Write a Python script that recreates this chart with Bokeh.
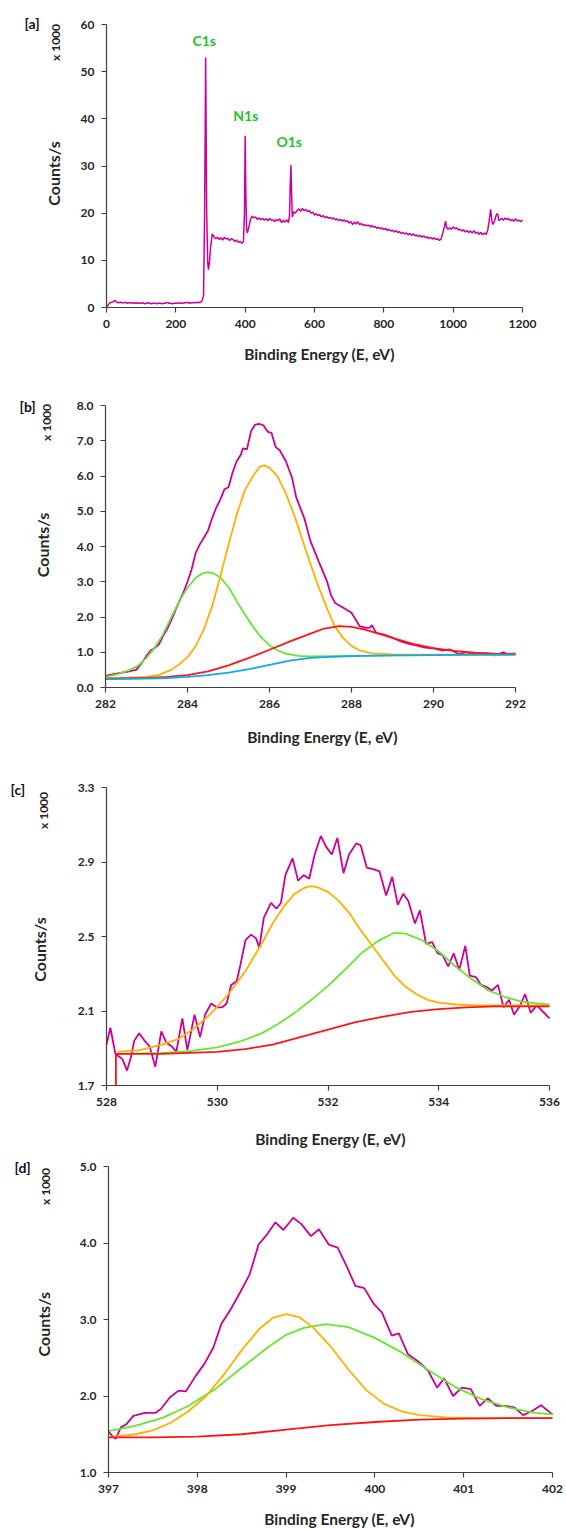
from math import pi
from bokeh.plotting import figure
from bokeh.models import Range1d, FixedTicker, NumeralTickFormatter, Label
from bokeh.layouts import column
from bokeh.embed import file_html
from bokeh.resources import INLINE

# ---------------- data ----------------
# [a] survey spectrum (binding energy eV, counts/s x1000)
survey_be = [0, 5, 10, 15, 20, 25, 30, 35, 40, 45, 50, 55, 60, 65, 70, 75, 80, 85, 90, 95,
             100, 105, 110, 115, 120, 125, 130, 135, 140, 145, 150, 155, 160, 165, 170, 175, 180, 185, 190, 195,
             200, 205, 210, 215, 220, 225, 230, 235, 240, 245, 250, 255, 260, 265, 270, 275, 280, 283, 286, 289,
             292, 294, 297, 300, 305, 310, 315, 320, 325, 330, 335, 340, 345, 350, 355, 360, 365, 370, 375, 380,
             385, 390, 395, 398, 400, 402, 404, 406, 409, 412, 415, 420, 425, 430, 435, 440, 445, 450, 455, 460,
             465, 470, 475, 480, 485, 490, 495, 500, 505, 510, 515, 520, 525, 528, 530, 532, 534, 536, 540, 545,
             550, 555, 560, 565, 570, 575, 580, 585, 590, 595, 600, 605, 610, 615, 620, 625, 630, 635, 640, 645,
             650, 655, 660, 665, 670, 675, 680, 685, 690, 695, 700, 705, 710, 715, 720, 725, 730, 735, 740, 745,
             750, 755, 760, 765, 770, 775, 780, 785, 790, 795, 800, 805, 810, 815, 820, 825, 830, 835, 840, 845,
             850, 855, 860, 865, 870, 875, 880, 885, 890, 895, 900, 905, 910, 915, 920, 925, 930, 935, 940, 945,
             950, 955, 960, 965, 970, 975, 978, 981, 985, 990, 995, 1000, 1005, 1010, 1015, 1020, 1025, 1030, 1035, 1040,
             1045, 1050, 1055, 1060, 1065, 1070, 1075, 1080, 1085, 1090, 1095, 1100, 1104, 1108, 1112, 1115, 1120, 1125, 1128, 1132,
             1135, 1140, 1145, 1150, 1155, 1160, 1165, 1170, 1175, 1180, 1185, 1190, 1195, 1200]
survey_cps = [0.0, 0.6, 1.0, 1.1, 1.3, 1.5, 1.1, 1.0, 1.1, 1.0, 1.0, 1.1, 0.9, 1.0, 1.0, 0.9, 1.0, 0.9, 1.0, 0.9,
              0.9, 1.0, 0.8, 0.9, 1.0, 0.9, 0.8, 0.9, 0.9, 0.8, 0.9, 0.9, 0.8, 0.9, 0.9, 1.1, 0.9, 0.9, 0.8, 0.9,
              0.9, 0.9, 1.0, 0.9, 0.9, 1.0, 1.0, 1.1, 0.9, 1.0, 1.0, 1.0, 1.1, 1.0, 1.1, 1.3, 2.5, 20.0, 53.0, 20.0,
              9.5, 8.0, 9.5, 12.5, 15.6, 15.0, 14.6, 14.9, 14.4, 14.8, 14.3, 14.9, 14.5, 14.7, 14.2, 14.6, 14.4, 14.0, 14.3, 13.8,
              14.0, 13.6, 13.9, 20.0, 36.4, 24.0, 17.0, 15.8, 16.5, 17.5, 18.6, 19.4, 19.0, 19.2, 18.7, 19.0, 18.6, 18.9, 18.5, 18.8,
              18.4, 18.9, 18.5, 18.6, 18.2, 18.7, 18.4, 18.8, 18.0, 18.5, 18.1, 18.6, 18.0, 19.5, 26.0, 30.2, 24.0, 19.2, 20.3, 20.0,
              20.6, 20.9, 20.4, 21.0, 20.5, 20.8, 20.3, 20.6, 20.0, 20.2, 19.6, 19.9, 19.5, 19.7, 19.2, 19.5, 19.0, 19.3, 18.9, 19.1,
              18.8, 19.0, 18.6, 18.8, 18.4, 18.7, 18.3, 18.6, 18.2, 18.4, 17.9, 18.2, 17.6, 18.1, 17.7, 18.2, 17.6, 17.8, 17.4, 17.6,
              17.3, 17.5, 17.1, 17.4, 17.0, 17.2, 16.8, 17.0, 16.7, 16.9, 16.5, 16.8, 16.3, 16.6, 16.2, 16.4, 16.0, 16.3, 15.9, 16.1,
              15.7, 15.9, 15.6, 15.8, 15.4, 15.7, 15.3, 15.6, 15.2, 15.4, 15.0, 15.3, 14.9, 15.2, 14.8, 15.0, 14.6, 14.9, 14.5, 14.8,
              14.4, 14.6, 14.2, 14.5, 15.8, 17.2, 18.3, 17.0, 16.6, 16.9, 16.6, 17.1, 16.7, 16.9, 16.4, 16.6, 16.2, 16.5, 16.0, 16.3,
              15.9, 16.2, 15.8, 16.3, 15.7, 16.0, 15.5, 15.9, 15.4, 15.8, 15.5, 16.5, 18.5, 20.8, 18.2, 17.6, 18.5, 19.8, 19.9, 18.4,
              18.6, 18.9, 18.5, 19.0, 18.6, 18.9, 18.4, 18.7, 18.3, 18.8, 18.4, 18.5, 18.2, 18.6]
peak_names = ["C1s", "N1s", "O1s"]
peak_be = [282, 402, 527]
peak_label_y = [56.7, 40.8, 35.1]

# [b] C1s region
b_raw_be = [282.0, 282.2, 282.4, 282.55, 282.65, 282.75, 282.9, 283.0, 283.1, 283.2, 283.3, 283.4, 283.5, 283.6, 283.7,
            283.8, 283.9, 284.0, 284.1, 284.2, 284.3, 284.4, 284.5, 284.6, 284.7, 284.8, 284.9, 285.0, 285.1, 285.2,
            285.3, 285.35, 285.45, 285.55, 285.65, 285.75, 285.85, 285.95, 286.05, 286.15, 286.25, 286.4, 286.55, 286.65, 286.75,
            286.85, 287.0, 287.2, 287.4, 287.5, 287.6, 287.8, 288.0, 288.1, 288.2, 288.35, 288.45, 288.5, 288.6, 288.8,
            289.0, 289.2, 289.4, 289.6, 289.8, 290.0, 290.2, 290.4, 290.5, 290.6, 290.8, 290.9, 291.0, 291.2, 291.3,
            291.5, 291.7, 291.8, 292.0]
b_raw_cps = [0.33, 0.38, 0.42, 0.45, 0.48, 0.50, 0.72, 0.90, 1.05, 1.12, 1.22, 1.45, 1.65, 1.90, 2.17,
             2.45, 2.69, 3.00, 3.35, 3.82, 4.06, 4.25, 4.45, 4.80, 5.10, 5.33, 5.62, 5.68, 6.10, 6.42,
             6.60, 6.78, 6.76, 7.27, 7.46, 7.48, 7.44, 7.26, 7.22, 6.82, 6.73, 6.42, 5.95, 5.40, 5.10,
             4.80, 4.15, 3.58, 3.02, 2.62, 2.40, 2.26, 2.12, 1.93, 1.74, 1.69, 1.70, 1.77, 1.55, 1.50,
             1.41, 1.31, 1.24, 1.19, 1.13, 1.11, 1.05, 1.08, 1.02, 0.95, 1.00, 0.96, 0.98, 0.94, 0.97,
             0.91, 1.00, 0.95, 0.96]
b_green_be = [282.0, 282.3, 282.6, 282.8, 283.0, 283.2, 283.4, 283.6, 283.8, 284.0, 284.2, 284.35, 284.5, 284.65, 284.8,
              285.0, 285.2, 285.4, 285.6, 285.8, 286.0, 286.2, 286.4, 286.7, 287.0, 288.0, 289.0, 290.0, 292.0]
b_green_cps = [0.30, 0.38, 0.50, 0.62, 0.84, 1.13, 1.50, 1.98, 2.45, 2.83, 3.11, 3.23, 3.27, 3.23, 3.12,
               2.85, 2.45, 2.07, 1.72, 1.42, 1.20, 1.05, 0.96, 0.90, 0.88, 0.90, 0.91, 0.92, 0.93]
b_orange_be = [282.0, 282.5, 283.0, 283.3, 283.6, 283.8, 284.0, 284.2, 284.4, 284.6, 284.8, 285.0, 285.2, 285.4, 285.6,
               285.75, 285.85, 286.0, 286.2, 286.4, 286.6, 286.8, 287.0, 287.2, 287.4, 287.6, 287.8, 288.0, 288.2, 288.5,
               289.0, 290.0, 291.0, 292.0]
b_orange_cps = [0.26, 0.27, 0.30, 0.36, 0.50, 0.66, 0.86, 1.18, 1.65, 2.30, 3.15, 4.05, 4.90, 5.60, 6.00,
                6.25, 6.30, 6.24, 5.98, 5.50, 4.90, 4.20, 3.50, 2.85, 2.25, 1.72, 1.40, 1.18, 1.05, 0.97,
                0.94, 0.93, 0.93, 0.93]
b_red_be = [282.0, 283.0, 283.5, 284.0, 284.5, 285.0, 285.5, 286.0, 286.5, 287.0, 287.3, 287.7, 288.0, 288.3, 288.6,
            289.0, 289.5, 290.0, 290.5, 291.0, 291.5, 292.0]
b_red_cps = [0.25, 0.27, 0.30, 0.35, 0.46, 0.63, 0.84, 1.07, 1.31, 1.53, 1.66, 1.74, 1.72, 1.65, 1.55,
             1.41, 1.24, 1.12, 1.04, 0.99, 0.96, 0.95]
b_blue_be = [282.0, 283.0, 283.5, 284.0, 284.5, 285.0, 285.5, 286.0, 286.5, 287.0, 287.5, 288.0, 289.0, 290.0, 291.0, 292.0]
b_blue_cps = [0.24, 0.25, 0.27, 0.30, 0.35, 0.42, 0.52, 0.64, 0.76, 0.84, 0.87, 0.89, 0.91, 0.92, 0.93, 0.93]

# [c] O1s region
c_raw_be = [528.0, 528.07, 528.16, 528.25, 528.29, 528.37, 528.44, 528.5, 528.59, 528.69, 528.78, 528.88, 528.99, 529.08, 529.18,
            529.26, 529.37, 529.46, 529.59, 529.69, 529.78, 529.89, 529.99, 530.09, 530.17, 530.25, 530.35, 530.42, 530.51, 530.61,
            530.7, 530.76, 530.84, 530.97, 531.07, 531.15, 531.23, 531.36, 531.46, 531.56, 531.66, 531.76, 531.87, 531.97, 532.07,
            532.17, 532.28, 532.38, 532.51, 532.59, 532.7, 532.83, 532.93, 533.05, 533.16, 533.26, 533.36, 533.45, 533.57, 533.66,
            533.77, 533.88, 533.98, 534.07, 534.17, 534.27, 534.37, 534.48, 534.56, 534.68, 534.76, 534.86, 534.96, 535.07, 535.17,
            535.27, 535.36, 535.47, 535.56, 535.66, 535.77, 535.87, 536.0]
c_raw_cps = [1.92, 2.01, 1.87, 1.85, 1.84, 1.78, 1.85, 1.94, 1.98, 1.94, 1.91, 1.80, 1.99, 1.93, 1.91,
             1.88, 2.06, 1.89, 2.08, 1.96, 2.08, 2.14, 2.12, 2.12, 2.14, 2.24, 2.26, 2.35, 2.48, 2.51,
             2.49, 2.44, 2.60, 2.68, 2.65, 2.68, 2.83, 2.92, 2.80, 2.83, 2.81, 2.94, 3.04, 2.98, 2.94,
             3.03, 2.84, 2.94, 3.00, 2.99, 2.87, 2.86, 2.85, 2.72, 2.82, 2.67, 2.73, 2.69, 2.57, 2.64,
             2.46, 2.47, 2.41, 2.40, 2.34, 2.41, 2.32, 2.45, 2.29, 2.28, 2.24, 2.23, 2.21, 2.24, 2.12,
             2.16, 2.08, 2.13, 2.19, 2.09, 2.13, 2.10, 2.06]
c_orange_be = [528.2, 528.6, 529.0, 529.3, 529.6, 529.9, 530.2, 530.5, 530.8, 531.0, 531.2, 531.4, 531.6, 531.7, 531.8,
               532.0, 532.2, 532.4, 532.6, 532.8, 533.0, 533.2, 533.4, 533.6, 533.8, 534.0, 534.3, 534.7, 535.2, 536.0]
c_orange_cps = [1.88, 1.89, 1.92, 1.95, 2.01, 2.09, 2.19, 2.31, 2.46, 2.57, 2.66, 2.73, 2.765, 2.77, 2.765,
                2.74, 2.69, 2.62, 2.53, 2.45, 2.37, 2.29, 2.23, 2.19, 2.16, 2.145, 2.135, 2.13, 2.13, 2.13]
c_green_be = [528.2, 529.0, 529.5, 530.0, 530.4, 530.8, 531.1, 531.4, 531.7, 532.0, 532.3, 532.6, 532.9, 533.2, 533.4,
              533.7, 534.0, 534.3, 534.6, 534.9, 535.2, 535.5, 535.8, 536.0]
c_green_cps = [1.87, 1.875, 1.885, 1.905, 1.935, 1.98, 2.03, 2.09, 2.16, 2.235, 2.32, 2.41, 2.475, 2.52, 2.515,
               2.48, 2.42, 2.34, 2.27, 2.21, 2.175, 2.15, 2.14, 2.135]
c_red_be = [528.17, 528.17, 528.5, 529.0, 529.5, 530.0, 530.5, 531.0, 531.5, 532.0, 532.5, 533.0, 533.5, 534.0, 534.5,
            535.0, 536.0]
c_red_cps = [1.70, 1.87, 1.87, 1.87, 1.875, 1.88, 1.895, 1.92, 1.96, 2.00, 2.04, 2.07, 2.095, 2.11, 2.12,
             2.125, 2.125]

# [d] N1s region
d_raw_be = [397.0, 397.04, 397.08, 397.14, 397.2, 397.28, 397.41, 397.53, 397.59, 397.69, 397.79, 397.87, 397.98, 398.08, 398.18,
            398.27, 398.38, 398.48, 398.59, 398.69, 398.79, 398.88, 398.97, 399.08, 399.17, 399.28, 399.37, 399.48, 399.58, 399.68,
            399.78, 399.88, 399.99, 400.08, 400.19, 400.27, 400.37, 400.5, 400.6, 400.7, 400.78, 400.88, 400.98, 401.08, 401.18,
            401.27, 401.37, 401.47, 401.57, 401.67, 401.78, 401.87, 402.0]
d_raw_cps = [1.54, 1.48, 1.44, 1.59, 1.63, 1.74, 1.78, 1.78, 1.83, 1.98, 2.07, 2.06, 2.26, 2.42, 2.63,
             2.94, 3.14, 3.35, 3.59, 3.98, 4.12, 4.27, 4.17, 4.33, 4.25, 4.09, 4.18, 3.98, 3.94, 3.70,
             3.44, 3.41, 3.20, 3.09, 2.79, 2.82, 2.55, 2.44, 2.33, 2.11, 2.23, 2.00, 2.11, 2.09, 1.87,
             1.97, 1.87, 1.87, 1.85, 1.75, 1.81, 1.88, 1.76]
d_orange_be = [397.0, 397.3, 397.5, 397.7, 397.9, 398.1, 398.3, 398.5, 398.7, 398.85, 399.0, 399.15, 399.3, 399.5, 399.7,
               399.9, 400.1, 400.3, 400.5, 400.8, 401.2, 402.0]
d_orange_cps = [1.46, 1.50, 1.55, 1.65, 1.80, 2.00, 2.28, 2.60, 2.88, 3.02, 3.07, 3.03, 2.90, 2.65, 2.35,
                2.08, 1.90, 1.80, 1.75, 1.72, 1.71, 1.71]
d_green_be = [397.0, 397.3, 397.6, 397.9, 398.2, 398.5, 398.8, 399.0, 399.2, 399.45, 399.7, 400.0, 400.3, 400.6, 400.9,
              401.2, 401.5, 401.8, 402.0]
d_green_cps = [1.54, 1.61, 1.71, 1.87, 2.09, 2.37, 2.64, 2.80, 2.89, 2.94, 2.90, 2.76, 2.57, 2.34, 2.12,
               1.96, 1.85, 1.78, 1.76]
d_red_be = [397.0, 397.5, 398.0, 398.5, 399.0, 399.5, 400.0, 400.5, 401.0, 401.5, 402.0]
d_red_cps = [1.46, 1.46, 1.47, 1.50, 1.56, 1.62, 1.66, 1.69, 1.705, 1.71, 1.71]

a_xticks = [0, 200, 400, 600, 800, 1000, 1200]
a_yticks = [0, 10, 20, 30, 40, 50, 60]
b_xticks = [282, 284, 286, 288, 290, 292]
b_yticks = [0, 1, 2, 3, 4, 5, 6, 7, 8]
c_xticks = [528, 530, 532, 534, 536]
c_yticks = [1.7, 2.1, 2.5, 2.9, 3.3]
d_xticks = [397, 398, 399, 400, 401, 402]
d_yticks = [1, 2, 3, 4, 5]

# ---------------- style ----------------
FONT = "Lato"
TXT = "#262626"
AX = "#404040"
MAG = "#cc0099"
ORA = "#ffb000"
GRN = "#66e62e"
RED = "#ff1414"
BLU = "#13a8ec"
PEAK_TXT = "#22c422"
W = 566
LW = 1.8


class Geo:
    # h: figure height; fx0/fx1: pixel columns of x-range ends; fy0/fy1: pixel rows of y top/bottom
    def __init__(self, h, fx0, fx1, fy0, fy1, xr, yr):
        self.h, self.fx0, self.fx1, self.fy0, self.fy1 = h, fx0, fx1, fy0, fy1
        self.xr, self.yr = xr, yr
        self.sx = (xr[1] - xr[0]) / (fx1 - fx0)
        self.sy = (yr[1] - yr[0]) / (fy1 - fy0)

    def full_x(self):
        return (self.xr[0] - self.fx0 * self.sx, self.xr[1] + (W - self.fx1) * self.sx)

    def full_y(self):
        return (self.yr[0] - (self.h - self.fy1) * self.sy, self.yr[1] + self.fy0 * self.sy)

    def to_data(self, px, py):
        return (self.xr[0] + (px - self.fx0) * self.sx, self.yr[1] - (py - self.fy0) * self.sy)


def make_fig(g, xticks, yticks, yfmt):
    p = figure(width=W, height=g.h, x_range=Range1d(*g.full_x()), y_range=Range1d(*g.full_y()),
               output_backend="svg", toolbar_location=None,
               min_border=0, min_border_left=0, min_border_right=0,
               min_border_top=0, min_border_bottom=0)
    p.outline_line_color = None
    p.grid.visible = False
    p.background_fill_color = "white"
    p.border_fill_color = "white"
    p.xaxis.ticker = FixedTicker(ticks=xticks)
    p.yaxis.ticker = FixedTicker(ticks=yticks)
    p.xaxis.formatter = NumeralTickFormatter(format="0")
    p.yaxis.formatter = NumeralTickFormatter(format=yfmt)
    p.xaxis.fixed_location = g.yr[0]
    p.yaxis.fixed_location = g.xr[0]
    p.xaxis.bounds = g.xr
    p.yaxis.bounds = g.yr
    for ax in (p.xaxis[0], p.yaxis[0]):
        ax.axis_line_color = AX
        ax.axis_line_width = 1.2
        ax.major_tick_line_color = AX
        ax.major_tick_line_width = 1.2
        ax.major_tick_out = 5
        ax.major_tick_in = 0
        ax.minor_tick_line_color = None
        ax.major_label_text_font = FONT
        ax.major_label_text_font_style = "bold"
        ax.major_label_text_font_size = "12px"
        ax.major_label_text_color = TXT
        ax.major_label_standoff = 7
    return p


def lab(p, g, px, py, text, size, angle=0.0, align="center", color=TXT):
    x, y = g.to_data(px, py)
    p.add_layout(Label(x=x, y=y, text=text, angle=angle, text_align=align,
                       text_baseline="middle", text_font=FONT, text_font_style="bold",
                       text_font_size=size, text_color=color))


def decorate(p, g, tag, tag_xy, k_xy, c_xy, t_xy):
    lab(p, g, tag_xy[0], tag_xy[1], tag, "14px", align="left", color="#111111")
    lab(p, g, k_xy[0], k_xy[1], "x 1000", "12px", angle=pi / 2)
    lab(p, g, c_xy[0], c_xy[1], "Counts/s", "16px", angle=pi / 2)
    lab(p, g, t_xy[0], t_xy[1], "Binding Energy (E, eV)", "15.5px")


# panel a
ga = Geo(385, 106, 522, 24, 307, (0, 1200), (0, 60))
pa = make_fig(ga, a_xticks, a_yticks, "0")
pa.line(survey_be, survey_cps, line_color=MAG, line_width=1.5)
for name, xb, yb in zip(peak_names, peak_be, peak_label_y):
    pa.add_layout(Label(x=xb, y=yb, text=name, text_align="center", text_baseline="middle",
                        text_font=FONT, text_font_style="bold", text_font_size="14px",
                        text_color=PEAK_TXT))
decorate(pa, ga, "[a]", (24, 23), (55, 42), (52.5, 173), (319, 353))

# panel b
gb = Geo(380, 105, 515, 20, 302, (282, 292), (0, 8))
pb = make_fig(gb, b_xticks, b_yticks, "0.0")
pb.line(b_raw_be, b_raw_cps, line_color=MAG, line_width=LW)
pb.line(b_green_be, b_green_cps, line_color=GRN, line_width=LW)
pb.line(b_orange_be, b_orange_cps, line_color=ORA, line_width=LW)
pb.line(b_red_be, b_red_cps, line_color=RED, line_width=LW)
pb.line(b_blue_be, b_blue_cps, line_color=BLU, line_width=LW)
decorate(pb, gb, "[b]", (19, 20.7), (46, 37), (42.4, 159.5), (322, 351.7))

# panel c
gc = Geo(383, 106, 549, 22, 320, (528, 536), (1.7, 3.3))
pc = make_fig(gc, c_xticks, c_yticks, "0.0")
pc.line(c_raw_be, c_raw_cps, line_color=MAG, line_width=LW)
pc.line(c_green_be, c_green_cps, line_color=GRN, line_width=LW)
pc.line(c_orange_be, c_orange_cps, line_color=ORA, line_width=LW)
pc.line(c_red_be, c_red_cps, line_color=RED, line_width=LW)
decorate(pc, gc, "[c]", (10, 24), (43, 45), (39, 184), (330, 373))

# panel d
gd = Geo(381, 108, 552, 18, 324, (397, 402), (1, 5))
pd_ = make_fig(gd, d_xticks, d_yticks, "0.0")
pd_.line(d_raw_be, d_raw_cps, line_color=MAG, line_width=LW)
pd_.line(d_green_be, d_green_cps, line_color=GRN, line_width=LW)
pd_.line(d_orange_be, d_orange_cps, line_color=ORA, line_width=LW)
pd_.line(d_red_be, d_red_cps, line_color=RED, line_width=LW)
decorate(pd_, gd, "[d]", (14, 19), (45, 38), (43, 175.7), (339, 370.7))

layout = column(pa, pb, pc, pd_, spacing=0)
open("out.html", "w").write(file_html(layout, INLINE))
